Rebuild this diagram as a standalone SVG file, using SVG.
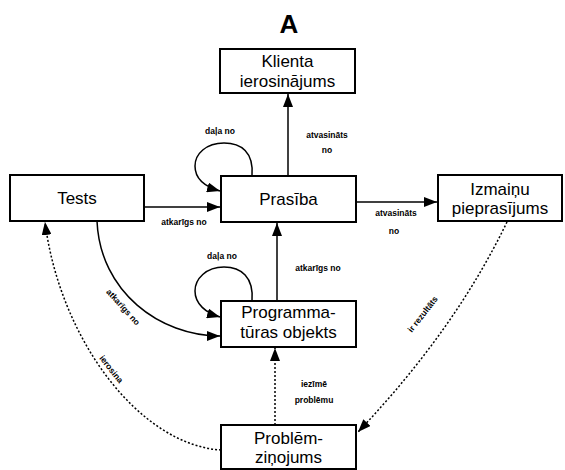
<svg xmlns="http://www.w3.org/2000/svg" width="565" height="470" viewBox="0 0 565 470">
  <style>
    .box { fill: #fff; stroke: #000; stroke-width: 2; }
    .node { font-family: "Liberation Sans", Arial, sans-serif; font-size: 17px; fill: #000; text-anchor: middle; }
    .lbl { font-family: "Liberation Sans", Arial, sans-serif; font-size: 8.5px; font-weight: bold; fill: #000; text-anchor: middle; }
    .title { font-family: "Liberation Sans", Arial, sans-serif; font-size: 26px; font-weight: bold; fill: #000; text-anchor: middle; }
    .edge { fill: none; stroke: #000; stroke-width: 1.5; marker-end: url(#arrow); }
    .dot { stroke-dasharray: 2 2; }
  </style>
  <defs>
    <marker id="arrow" markerUnits="userSpaceOnUse" markerWidth="14" markerHeight="10" refX="13" refY="5" orient="auto">
      <path d="M0,0 L13,5 L0,10 z" fill="#000"/>
    </marker>
  </defs>

  <rect width="565" height="470" fill="#fff"/>
  <text class="title" x="289" y="33">A</text>

  <g id="connectors">
    <!-- Prasība -> Klienta ierosinājums -->
    <path class="edge" d="M288,176 L288,94"/>
    <text class="lbl" x="327" y="138">atvasināts</text>
    <text class="lbl" x="327" y="153">no</text>

    <!-- Prasība self loop -->
    <path class="edge" d="M252,176 C254,152 241,143 224,143 C206,143 195,154 195,166 C195,179 206,187 220,191"/>
    <text class="lbl" x="220" y="134">daļa no</text>

    <!-- Tests -> Prasība -->
    <path class="edge" d="M144,207 L220,207"/>
    <text class="lbl" x="184" y="225">atkarīgs no</text>

    <!-- Prasība -> Izmaiņu pieprasījums -->
    <path class="edge" d="M356,202 L437,202"/>
    <text class="lbl" x="396" y="216">atvasināts</text>
    <text class="lbl" x="394" y="234">no</text>

    <!-- Programmatūras objekts self loop -->
    <path class="edge" d="M252,301 C254,277 241,267 224,267 C206,267 195,279 195,291 C195,304 206,313 220,317"/>
    <text class="lbl" x="222" y="259">daļa no</text>

    <!-- Programmatūras objekts -> Prasība -->
    <path class="edge" d="M277,301 L277,223"/>
    <text class="lbl" x="318" y="271">atkarīgs no</text>

    <!-- Tests -> Programmatūras objekts -->
    <path class="edge" d="M97,221 C100,292 160,336 220,336"/>
    <text class="lbl" transform="translate(121,309) rotate(48)">atkarīgs no</text>

    <!-- Problēmziņojums -> Programmatūras objekts -->
    <path class="edge dot" d="M275,425 L275,348"/>
    <text class="lbl" x="314" y="387">iezīmē</text>
    <text class="lbl" x="314" y="403">problēmu</text>

    <!-- Izmaiņu pieprasījums -> Problēmziņojums -->
    <path class="edge dot" d="M507,222 Q455,330 358,432"/>
    <text class="lbl" transform="translate(425,316) rotate(-52)">ir rezultāts</text>

    <!-- Problēmziņojums -> Tests -->
    <path class="edge dot" d="M221,450 C140,445 60,340 45,222"/>
    <text class="lbl" transform="translate(109,371) rotate(52)">ierosina</text>
  </g>

  <g id="klienta">
    <rect class="box" x="220" y="49" width="135" height="44"/>
    <text class="node" x="287.5" y="67">Klienta</text>
    <text class="node" x="287.5" y="87">ierosinājums</text>
  </g>

  <g id="tests">
    <rect class="box" x="10" y="175" width="134" height="46"/>
    <text class="node" x="77" y="204">Tests</text>
  </g>

  <g id="prasiba">
    <rect class="box" x="221" y="176" width="135" height="46"/>
    <text class="node" x="288.5" y="205">Prasība</text>
  </g>

  <g id="izmainu">
    <rect class="box" x="438" y="175" width="124" height="46"/>
    <text class="node" x="500" y="195">Izmaiņu</text>
    <text class="node" x="500" y="214">pieprasījums</text>
  </g>

  <g id="programmaturas">
    <rect class="box" x="221" y="301" width="135" height="46"/>
    <text class="node" x="288.5" y="318">Programma-</text>
    <text class="node" x="288.5" y="338">tūras objekts</text>
  </g>

  <g id="problem">
    <rect class="box" x="221" y="425" width="135" height="44"/>
    <text class="node" x="288.5" y="444">Problēm-</text>
    <text class="node" x="288.5" y="463">ziņojums</text>
  </g>
</svg>
